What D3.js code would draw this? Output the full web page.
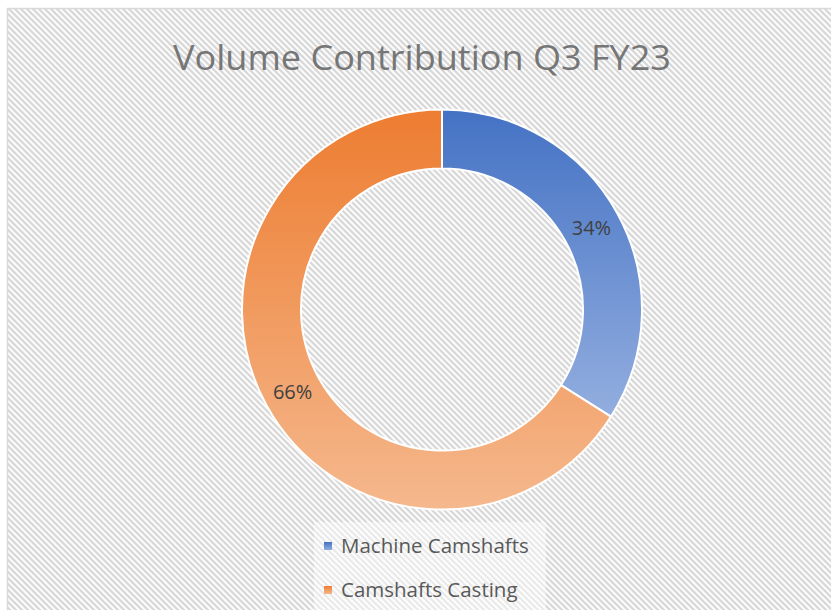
<!DOCTYPE html>
<html>
<head>
<meta charset="utf-8">
<script src="https://cdn.jsdelivr.net/npm/d3@7"></script>
<style>
  html, body { margin: 0; padding: 0; background: #fff; }
  svg { display: block; }
</style>
</head>
<body>
<div id="chart"></div>
<script>
const categories = ['Machine Camshafts', 'Camshafts Casting']
const shares = [34, 66]
const labels = ['34%', '66%']
const chartTitle = 'Volume Contribution Q3 FY23'

const width = 831
const height = 610
const center = { x: 442, y: 309.5 }
const outerRadius = 200
const innerRadius = 141

const colours = [
    { top: '#4472c4', bottom: '#93aedf' },
    { top: '#ed7d31', bottom: '#f5b88d' },
]

const svg = d3.select('#chart')
    .append('svg')
    .attr('width', width)
    .attr('height', height)

const defs = svg.append('defs')

const pattern = defs.append('pattern')
    .attr('id', 'hatch')
    .attr('patternUnits', 'userSpaceOnUse')
    .attr('width', 6)
    .attr('height', 6)
pattern.append('rect')
    .attr('width', 6)
    .attr('height', 6)
    .attr('fill', '#ffffff')
pattern.append('path')
    .attr('d', 'M-1,-1 L7,7 M-4,2 L2,8 M4,-2 L10,4')
    .attr('stroke', '#d9d9d9')
    .attr('stroke-width', 2.4)

colours.forEach((c, i) => {
    const g = defs.append('linearGradient')
        .attr('id', `grad${i}`)
        .attr('x1', 0).attr('y1', 0)
        .attr('x2', 0).attr('y2', 1)
    g.append('stop').attr('offset', '0%').attr('stop-color', c.top)
    g.append('stop').attr('offset', '100%').attr('stop-color', c.bottom)
})

// chart area
svg.append('rect')
    .attr('x', 7.5)
    .attr('y', 8.5)
    .attr('width', width)
    .attr('height', height)
    .attr('fill', 'url(#hatch)')
    .attr('stroke', '#d9d9d9')
    .attr('stroke-width', 1.5)

svg.append('text')
    .attr('x', 422)
    .attr('y', 70)
    .attr('text-anchor', 'middle')
    .attr('font-family', 'Open Sans, sans-serif')
    .attr('font-size', 35)
    .attr('fill', '#767676')
    .attr('textLength', 498)
    .attr('lengthAdjust', 'spacingAndGlyphs')
    .text(chartTitle)

const pie = d3.pie().sort(null).value(d => d)
const arc = d3.arc().innerRadius(innerRadius).outerRadius(outerRadius)
const labelArc = d3.arc()
    .innerRadius((innerRadius + outerRadius) / 2)
    .outerRadius((innerRadius + outerRadius) / 2)

const donut = svg.append('g')
    .attr('transform', `translate(${center.x},${center.y})`)

const slices = pie(shares)

donut.selectAll('path')
    .data(slices)
    .join('path')
    .attr('d', arc)
    .attr('fill', (d, i) => `url(#grad${i})`)
    .attr('stroke', '#ffffff')
    .attr('stroke-width', 2)

donut.selectAll('text')
    .data(slices)
    .join('text')
    .attr('transform', d => `translate(${labelArc.centroid(d)})`)
    .attr('text-anchor', 'middle')
    .attr('dy', '0.36em')
    .attr('font-family', 'Open Sans, sans-serif')
    .attr('font-size', 20)
    .attr('fill', '#404040')
    .text((d, i) => labels[i])

// legend
const legend = svg.append('g')
    .attr('transform', 'translate(314,522)')

legend.append('rect')
    .attr('width', 232)
    .attr('height', 90)
    .attr('fill', '#ffffff')
    .attr('opacity', 0.45)

const legendY = d3.scalePoint()
    .domain(categories)
    .range([24, 68])

const items = legend.selectAll('g.item')
    .data(categories)
    .join('g')
    .attr('class', 'item')
    .attr('transform', d => `translate(10,${legendY(d)})`)

items.append('rect')
    .attr('x', 0)
    .attr('y', -4)
    .attr('width', 8)
    .attr('height', 8)
    .attr('fill', (d, i) => `url(#grad${i})`)

items.append('text')
    .attr('x', 17)
    .attr('dy', '0.36em')
    .attr('font-family', 'Open Sans, sans-serif')
    .attr('font-size', 20.5)
    .attr('fill', '#595959')
    .text(d => d)
</script>
</body>
</html>
